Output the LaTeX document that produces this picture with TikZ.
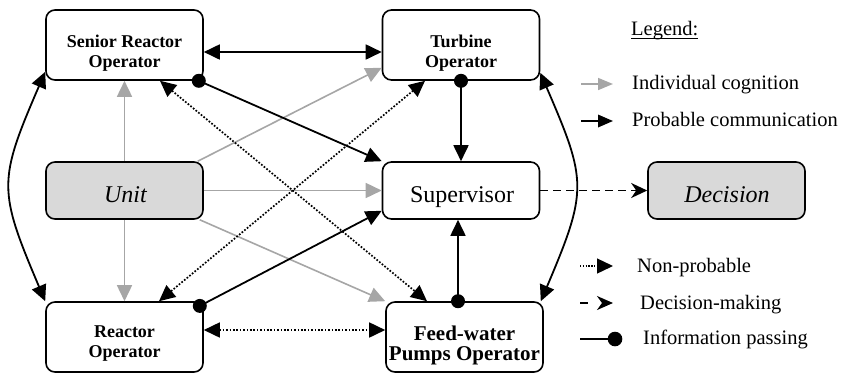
\documentclass[tikz,border=0pt]{standalone}
\usepackage{fontspec}
\setmainfont{Liberation Serif}
\usetikzlibrary{arrows.meta,calc}
\definecolor{cogngray}{RGB}{166,166,166}
\definecolor{boxfill}{RGB}{217,217,217}
\begin{document}
\begin{tikzpicture}[x=1pt,y=-1pt,
  >={Triangle[length=16pt,width=15pt]},
  box/.style={draw,line width=1.6pt,rounded corners=9pt,minimum width=157pt,inner sep=0pt},
  opbox/.style={box,minimum height=70pt,fill=white},
  midbox/.style={box,minimum height=57pt},
  optext/.style={inner sep=0pt,align=center,font=\fontsize{18}{20}\selectfont\bfseries},
  bigtext/.style={inner sep=0pt,anchor=base,font=\fontsize{24}{28}\selectfont},
  legtext/.style={inner sep=0pt,anchor=base west,font=\fontsize{20.5}{24}\selectfont},
  comm/.style={line width=1.8pt,draw=black},
  cogn/.style={line width=1.6pt,draw=cogngray},
  nonprob/.style={line width=1.7pt,dash pattern=on 1.7pt off 1.7pt},
  decis/.style={line width=1.8pt,dash pattern=on 8pt off 5pt},
  infodot/.style={fill=black}
]
\useasboundingbox (0,0) rectangle (851,373);

% boxes
\node[opbox] (sro) at (124.5,45) {};
\node[opbox] (turb) at (461,45) {};
\node[midbox,fill=boxfill] (unit) at (124.5,190.5) {};
\node[midbox,fill=white] (sup) at (461,190.5) {};
\node[midbox,fill=boxfill] (dec) at (726.5,190.5) {};
\node[opbox] (ro) at (124.5,337) {};
\node[opbox] (fw) at (464.5,337) {};

% box texts
\node[optext] (sro-t) at (124.5,53.5) {Senior Reactor\\Operator};
\node[optext] (turb-t) at (461,53.5) {Turbine\\Operator};
\node[optext] (ro-t) at (124.5,344) {Reactor\\Operator};
\node[optext,font=\fontsize{21}{20}\selectfont\bfseries] (fw-t) at (464.5,345.2) {Feed-water\\Pumps Operator};
\node[bigtext,font=\fontsize{24}{28}\selectfont\itshape] (unit-t) at (125.5,202.7) {Unit};
\node[bigtext] (sup-t) at (462,202.7) {Supervisor};
\node[bigtext,font=\fontsize{24}{28}\selectfont\itshape] (dec-t) at (727,202.7) {Decision};

% individual cognition (grey)
\draw[cogn,->] (unit.north) -- (sro.south);
\draw[cogn,->] (unit.south) -- (ro.north);
\draw[cogn,->] ([xshift=-6pt]unit.north east) -- ([yshift=13pt]turb.south west);
\draw[cogn,->] (unit.east) -- (sup.west);
\draw[cogn,->] ([xshift=-4pt]unit.south east) -- (fw.north west);

% non-probable (dotted)
\draw[nonprob,<->] ([xshift=35.5pt]sro.south) -- ([xshift=-37.5pt]fw.north);
\draw[nonprob,<->] ([xshift=34.5pt]ro.north) -- ([xshift=-36pt]turb.south);
\draw[nonprob,<->] ([yshift=7pt]ro.east) -- ([yshift=7pt]fw.west);

% probable communication
\draw[comm,<->] ([yshift=-7pt]sro.east) -- ([yshift=-7pt]turb.west);
\draw[comm,<->] ([yshift=9pt]sro.south west) .. controls (-2,181) and (-2,190) .. (ro.north west);
\draw[comm,<->] ([yshift=8pt]turb.south east) .. controls (587,181) and (588,190) .. ([xshift=-3pt]fw.north east);

% information passing
\draw[comm,->] ([xshift=-5pt]sro.south east) -- (sup.north west);
\draw[comm,->] (turb.south) -- (sup.north);
\draw[comm,->] ([xshift=-6.5pt]fw.north) -- ([xshift=-3pt]sup.south);
\draw[comm,->] ([shift={(-4pt,-4.7pt)}]ro.north east) -- ([yshift=9pt]sup.south west);
\fill[infodot] ([xshift=-5pt]sro.south east) circle (7pt);
\fill[infodot] (turb.south) circle (7pt);
\fill[infodot] ([xshift=-6.5pt]fw.north) circle (7pt);
\fill[infodot] ([shift={(-4pt,-4.7pt)}]ro.north east) circle (7pt);

% decision making
\draw[decis,-{Stealth[length=16pt,width=15pt,inset=5pt]}] (sup.east) -- (dec.west);

% legend
\node[legtext] (leg) at (631,35) {\underline{\raisebox{0pt}[\height][2pt]{Legend:}}};
\coordinate (l1a) at (581,84);  \coordinate (l1b) at (613,84);
\coordinate (l2a) at (581,121); \coordinate (l2b) at (613,121);
\coordinate (l3a) at (580,266); \coordinate (l3b) at (613,266);
\coordinate (l4a) at (580,303); \coordinate (l4b) at (613,303);
\coordinate (l5a) at (580,339); \coordinate (l5b) at (615,339);
\draw[cogn,-{Triangle[length=15pt,width=12pt]}] (l1a) -- (l1b);
\draw[comm,-{Triangle[length=15pt,width=12.5pt]}] (l2a) -- (l2b);
\draw[line width=1.3pt,dash pattern=on 1.3pt off 1.5pt,-{Triangle[length=16pt,width=15pt]}] (l3a) -- (l3b);
\draw[line width=1.8pt,dash pattern=on 8pt off 30pt,-{Stealth[length=16pt,width=14pt,inset=5pt]}] (l4a) -- (l4b);
\draw[comm] (l5a) -- (l5b);
\fill[infodot] (l5b) circle (7.3pt);
\node[legtext] (lt1) at (632,89.5) {Individual cognition};
\node[legtext] (lt2) at (632,126) {Probable communication};
\node[legtext] (lt3) at (637,272) {Non-probable};
\node[legtext] (lt4) at (640,309.5) {Decision-making};
\node[legtext] (lt5) at (643,344.5) {Information passing};
\end{tikzpicture}
\end{document}
